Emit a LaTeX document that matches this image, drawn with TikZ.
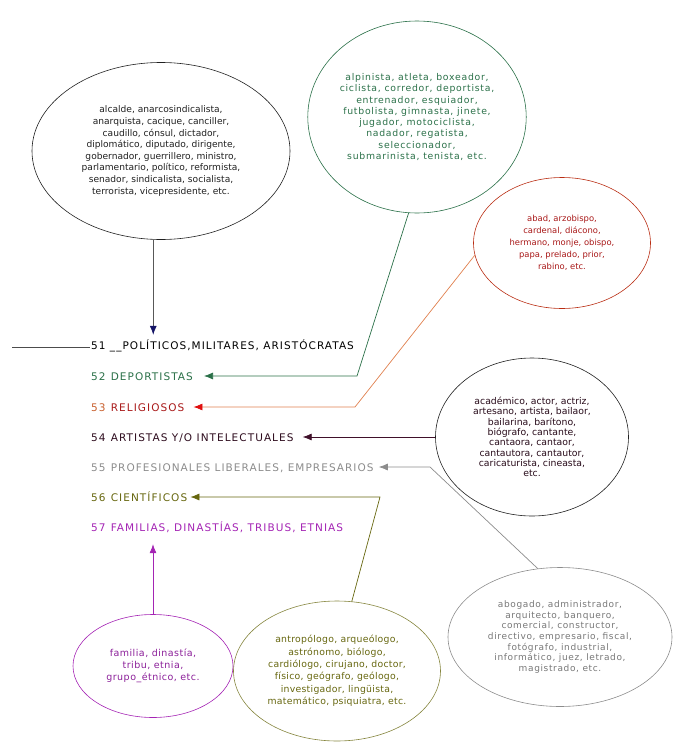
\documentclass[tikz,border=0pt]{standalone}
\usepackage{fontspec}
\setmainfont{DejaVu Sans}
\usetikzlibrary{arrows.meta,shapes.geometric}

\definecolor{polink}{HTML}{202020}
\definecolor{polhead}{HTML}{141466}
\definecolor{depgreen}{HTML}{2A7048}
\definecolor{relline}{HTML}{E0804E}
\definecolor{relred}{HTML}{A81818}
\definecolor{relhead}{HTML}{E01010}
\definecolor{relnum}{HTML}{C8602E}
\definecolor{artmaroon}{HTML}{40102A}
\definecolor{profgray}{HTML}{8C8C8C}
\definecolor{sciolive}{HTML}{66660E}
\definecolor{famviolet}{HTML}{A424B4}

\begin{document}
\begin{tikzpicture}[x=1pt,y=-1pt,
  bubble/.style={ellipse, draw, inner sep=0pt, align=center, line width=0.6pt},
  cat/.style={anchor=west, inner sep=1pt, text height=8pt, text depth=0pt,
    font=\fontsize{10.5}{12}\selectfont\addfontfeature{LetterSpace=10}},
  link/.style={line width=0.7pt},
  >={Latex[length=9pt,width=7pt]}
]
\useasboundingbox (0,0) rectangle (673,742);

% category list
\node[cat, text=black] (l51) at (90,345) {51 \_\_POLÍTICOS,MILITARES, ARISTÓCRATAS};
\node[cat, text=depgreen] (l52) at (90,376) {52\hspace{0.5em}DEPORTISTAS};
\node[cat, text=relred] (l53) at (90,407) {\textcolor{relnum}{53}\hspace{0.5em}RELIGIOSOS};
\node[cat, text=artmaroon!70!black] (l54) at (90,437) {54\hspace{0.5em}ARTISTAS Y/O INTELECTUALES};
\node[cat, text=profgray] (l55) at (90,467) {55\hspace{0.5em}PROFESIONALES LIBERALES, EMPRESARIOS};
\node[cat, text=sciolive] (l56) at (90,497) {56\hspace{0.5em}CIENTÍFICOS};
\node[cat, text=famviolet] (l57) at (90,527) {57\hspace{0.5em}FAMILIAS, DINASTÍAS, TRIBUS, ETNIAS};

% word lists
\node[bubble, draw=polink, text=polink, minimum width=258pt, minimum height=177pt,
  font=\fontsize{9.1}{11.6}\selectfont] (pol) at (161,151)
  {alcalde, anarcosindicalista,\\anarquista, cacique, canciller,\\caudillo, cónsul, dictador,\\diplomático, diputado, dirigente,\\gobernador, guerrillero, ministro,\\parlamentario, político, reformista,\\senador, sindicalista, socialista,\\terrorista, vicepresidente, etc.};
\node[bubble, draw=depgreen, text=depgreen, minimum width=205pt, minimum height=192pt,
  font=\fontsize{9.3}{11.3}\selectfont\addfontfeature{LetterSpace=8}] (dep) at (417,117)
  {alpinista, atleta, boxeador,\\ciclista, corredor, deportista,\\entrenador, esquiador,\\futbolista, gimnasta, jinete,\\jugador, motociclista,\\nadador, regatista,\\seleccionador,\\submarinista, tenista, etc.};
\node[bubble, draw=relred!80!orange, text=relred, minimum width=177pt, minimum height=131pt,
  font=\fontsize{8.4}{12}\selectfont] (rel) at (562,243)
  {abad, arzobispo,\\cardenal, diácono,\\hermano, monje, obispo,\\papa, prelado, prior,\\rabino, etc.};
\node[bubble, draw=polink, text=artmaroon!60!black, minimum width=193pt, minimum height=158pt,
  font=\fontsize{9.3}{10.3}\selectfont] (art) at (532,437)
  {académico, actor, actriz,\\artesano, artista, bailaor,\\bailarina, barítono,\\biógrafo, cantante,\\cantaora, cantaor,\\cantautora, cantautor,\\caricaturista, cineasta,\\etc.};
\node[bubble, draw=profgray, text=profgray!85!black, minimum width=224pt, minimum height=139pt,
  font=\fontsize{9}{10.6}\selectfont\addfontfeature{LetterSpace=7}] (prof) at (560,637)
  {abogado, administrador,\\arquitecto, banquero,\\comercial, constructor,\\directivo, empresario, fiscal,\\fotógrafo, industrial,\\informático, juez, letrado,\\magistrado, etc.};
\node[bubble, draw=sciolive!80, text=sciolive, minimum width=207pt, minimum height=140pt,
  font=\fontsize{9.3}{12.4}\selectfont\addfontfeature{LetterSpace=3}] (sci) at (337,671)
  {antropólogo, arqueólogo,\\astrónomo, biólogo,\\cardiólogo, cirujano, doctor,\\físico, geógrafo, geólogo,\\investigador, lingüista,\\matemático, psiquiatra, etc.};
\node[bubble, draw=famviolet, text=famviolet!85!black, minimum width=160pt, minimum height=103pt,
  font=\fontsize{9.5}{11.7}\selectfont\addfontfeature{LetterSpace=5}] (fam) at (153,666)
  {familia, dinastía,\\tribu, etnia,\\grupo\_étnico, etc.};

% corners of the connectors
\coordinate (c52) at (357,376);
\coordinate (c53) at (355,407);
\coordinate (c55) at (430,467);
\coordinate (c56) at (380,497);
\coordinate (lead) at (12,347);

% connectors
\draw[link, polink!80] (lead) -- (l51.west |- lead);
\draw[link, polink!75, -{Latex[length=9pt,width=7pt,color=polhead]}, shorten >=5pt] (pol.-95) -- (pol.-95 |- l51.north);
\draw[link, depgreen, ->, shorten >=10pt] (dep.-95) -- (c52) -- (l52.east);
\draw[link, relline, -{Latex[length=9pt,width=7pt,color=relhead]}, shorten >=8pt] (rel.188) -- (c53) -- (l53.east);
\draw[link, artmaroon, ->, shorten >=8pt] (art.west) -- (l54.east);
\draw[link, profgray, ->, shorten >=4pt] (prof.108) -- (c55) -- (l55.east);
\draw[link, sciolive, ->, shorten >=2pt] (sci.78) -- (c56) -- (l56.east);
\draw[link, famviolet, ->, shorten >=12pt] (fam.north) -- (fam.north |- l57.south);
\end{tikzpicture}
\end{document}
